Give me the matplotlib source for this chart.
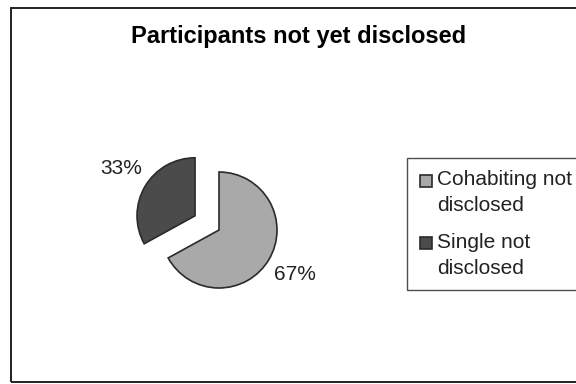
import numpy as np
import matplotlib
matplotlib.use('Agg')
import matplotlib.pyplot as plt
import matplotlib.patches as mpatches
from matplotlib.legend_handler import HandlerPatch

plt.rcParams['font.family'] = ['Liberation Sans', 'DejaVu Sans']

# chart data
title = 'Participants not yet disclosed'
categories = ['Cohabiting not\ndisclosed', 'Single not\ndisclosed']
shares = [67, 33]
pct_labels = ['67%', '33%']
colours = ['#a9a9a9', '#4b4b4b']

W, H = 576, 384
fig = plt.figure(figsize=(W / 100, H / 100), dpi=100)

# outer chart frame (right edge runs off the picture)
fig.patches.append(mpatches.Rectangle((11 / W, 2 / H), 1.0, 374 / H, transform=fig.transFigure,
                                      facecolor='none', edgecolor='#222222', linewidth=1.4))

fig.text(299 / W, 1 - 37 / H, title, ha='center', va='center', fontsize=17, fontweight='bold')

# pie axes: centre at (219, 230) px, radius 58 px
cx, cy, r, lim = 219, 230, 58, 2.2
half = lim * r
ax = fig.add_axes([(cx - half) / W, (H - cy - half) / H, 2 * half / W, 2 * half / H])
wedges, texts = ax.pie(shares, colors=colours, labels=pct_labels, startangle=90, counterclock=False,
                       explode=[0, 0.48], labeldistance=1.22,
                       wedgeprops=dict(edgecolor='#2a2a2a', linewidth=1.2),
                       textprops=dict(fontsize=15, color='#222222'))
ax.set_xlim(-lim, lim)
ax.set_ylim(-lim, lim)
ax.axis('off')

# nudge the percentage labels a little clockwise, as in the source chart
rot = np.deg2rad(-8)
for t in texts:
    x, y = t.get_position()
    t.set_position((x * np.cos(rot) - y * np.sin(rot), x * np.sin(rot) + y * np.cos(rot)))


# small square key sitting level with the first line of a two-line label
def top_square(legend, orig_handle, xdescent, ydescent, width, height, fontsize):
    s = 0.58 * fontsize
    return mpatches.Rectangle((-xdescent, -ydescent + height - s * 0.95), s, s)


leg = fig.legend(wedges, categories, loc='upper left', bbox_to_anchor=(407 / W, 1 - 158 / H),
                 fontsize=15, frameon=True, fancybox=False, shadow=False,
                 handlelength=0.6, handleheight=2.4, handletextpad=0.25,
                 borderpad=0.6, labelspacing=0.85, borderaxespad=0,
                 handler_map={mpatches.Wedge: HandlerPatch(patch_func=top_square)})
leg.get_frame().set_edgecolor('#222222')
leg.get_frame().set_linewidth(1.0)
for t in leg.get_texts():
    t.set_color('#222222')
    t.set_linespacing(1.45)

fig.savefig('out.png', dpi=100)
